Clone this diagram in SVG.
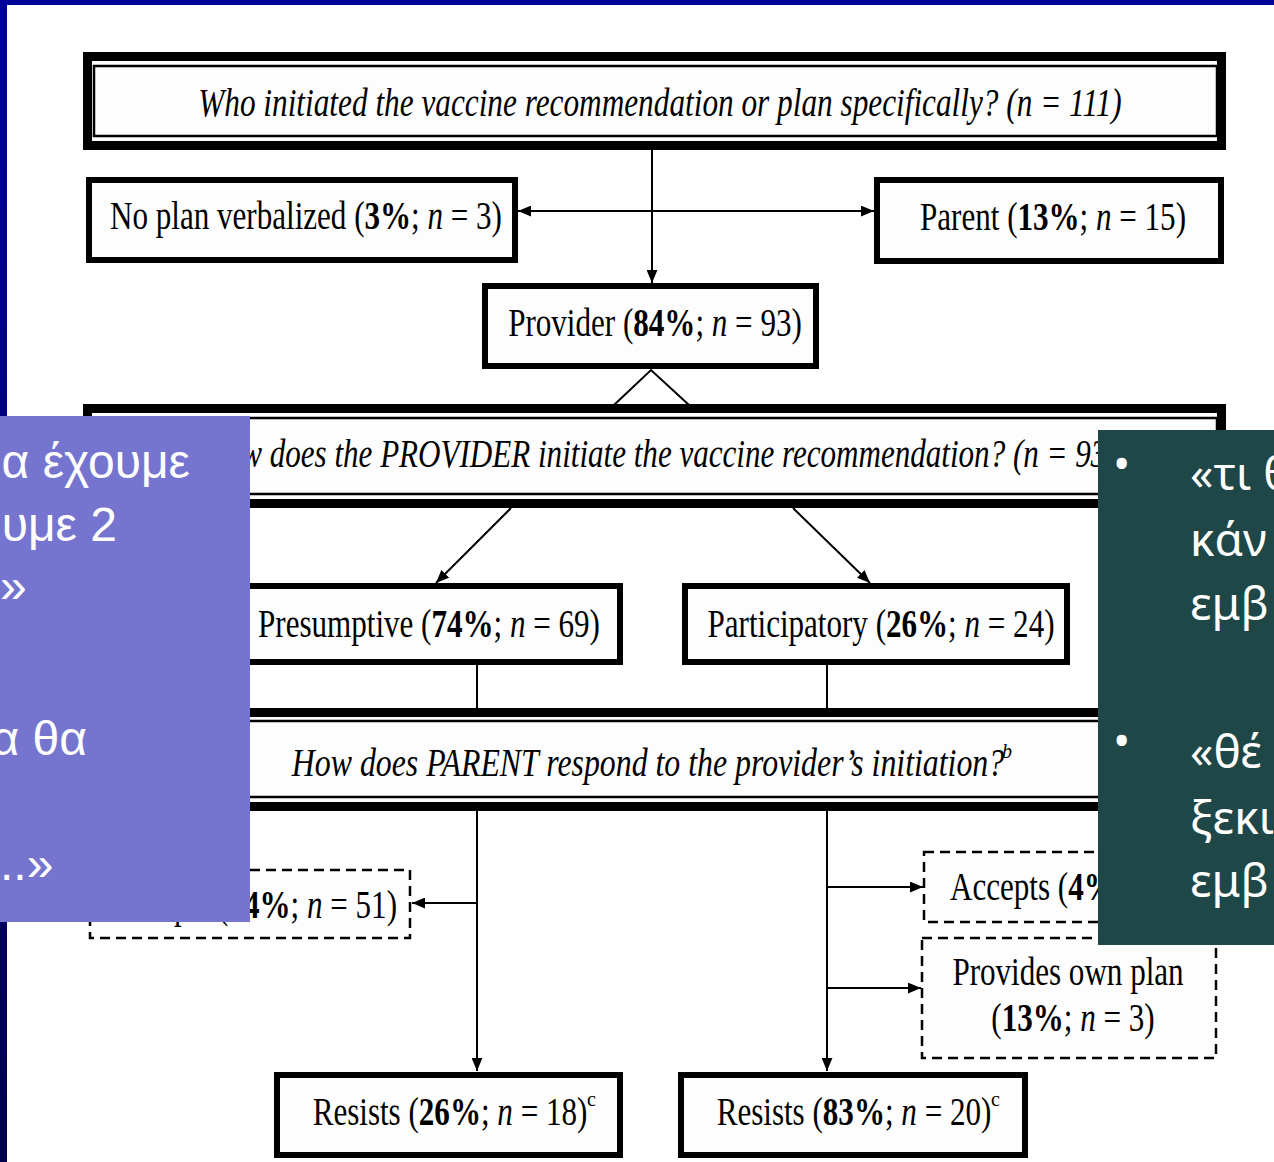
<svg xmlns="http://www.w3.org/2000/svg" width="1274" height="1162" viewBox="0 0 1274 1162">
<defs>
<linearGradient id="navy" x1="0" y1="0" x2="0" y2="1">
<stop offset="0" stop-color="#000099"/>
<stop offset="1" stop-color="#00004d"/>
</linearGradient>
<marker id="ah" viewBox="0 0 12 10" refX="12" refY="5" markerWidth="13" markerHeight="11" markerUnits="userSpaceOnUse" orient="auto-start-reverse">
<path d="M0,0 L12,5 L0,10 Z" fill="#000"/>
</marker>
<style>
.box{fill:#fdfdfd;stroke:#000;stroke-width:6}
.hdr{fill:#fdfdfd;stroke:#000;stroke-width:9}
.hin{fill:none;stroke:#000;stroke-width:2.5}
.dash{fill:#fdfdfd;stroke:#000;stroke-width:2.5;stroke-dasharray:10 6}
.t{font-family:"Liberation Serif","Times New Roman",serif;font-size:40px;fill:#000;text-anchor:middle}
.s{text-anchor:start}
.e{text-anchor:end}
.it{font-style:italic}
.b{font-weight:bold}
.sup{font-family:"Liberation Serif","Times New Roman",serif;font-size:20px;fill:#000}
.ln{fill:none;stroke:#000;stroke-width:2}
.pt{font-family:"Liberation Sans",Arial,sans-serif;font-size:48px;fill:#fff}
.gt{font-family:"Noto Sans","DejaVu Sans",sans-serif;font-size:46px;fill:#fff}
</style>
</defs>
<rect x="0" y="0" width="1274" height="1162" fill="#fff"/>
<rect x="0" y="0" width="1274" height="5" fill="#000099"/>
<rect x="0" y="0" width="7" height="1162" fill="url(#navy)"/>

<g id="connectors">
<line class="ln" x1="652" y1="150" x2="652" y2="283" marker-end="url(#ah)"/>
<line class="ln" x1="518" y1="211" x2="874" y2="211" marker-start="url(#ah)" marker-end="url(#ah)"/>
<polyline class="ln" points="614,405 651,370 689,405"/>
<line class="ln" x1="511" y1="508" x2="436" y2="583" marker-end="url(#ah)"/>
<line class="ln" x1="793" y1="508" x2="870" y2="583" marker-end="url(#ah)"/>
<line class="ln" x1="477" y1="665" x2="477" y2="709"/>
<line class="ln" x1="827" y1="665" x2="827" y2="709"/>
<line class="ln" x1="477" y1="811" x2="477" y2="1071" marker-end="url(#ah)"/>
<line class="ln" x1="477" y1="903" x2="412" y2="903" marker-end="url(#ah)"/>
<line class="ln" x1="827" y1="811" x2="827" y2="1071" marker-end="url(#ah)"/>
<line class="ln" x1="827" y1="887" x2="923" y2="887" marker-end="url(#ah)"/>
<line class="ln" x1="827" y1="988" x2="921" y2="988" marker-end="url(#ah)"/>
</g>

<g id="q1">
<rect class="hdr" x="87.5" y="56.5" width="1134" height="89"/>
<rect class="hin" x="94" y="66" width="1123" height="70"/>
<text class="t it" transform="matrix(0.782 0 0 1 660 116)">Who initiated the vaccine recommendation or plan specifically? (n = 111)</text>
</g>

<g id="noplan">
<rect class="box" x="89" y="180" width="426" height="80"/>
<text class="t" transform="matrix(0.777 0 0 1 306 229)">No plan verbalized (<tspan class="b">3%</tspan>; <tspan class="it">n</tspan> = 3)</text>
</g>

<g id="parent">
<rect class="box" x="877" y="180" width="344" height="81"/>
<text class="t" transform="matrix(0.777 0 0 1 1053 230)">Parent (<tspan class="b">13%</tspan>; <tspan class="it">n</tspan> = 15)</text>
</g>

<g id="provider">
<rect class="box" x="485" y="286" width="331" height="80"/>
<text class="t" transform="matrix(0.777 0 0 1 655 336)">Provider (<tspan class="b">84%</tspan>; <tspan class="it">n</tspan> = 93)</text>
</g>

<g id="q2">
<rect class="hdr" x="87.5" y="408.5" width="1134" height="95"/>
<rect class="hin" x="94" y="418" width="1123" height="76"/>
<text class="t it" transform="matrix(0.777 0 0 1 660 467)">How does the PROVIDER initiate the vaccine recommendation? (n = 93)</text>
</g>

<g id="presumptive">
<rect class="box" x="239" y="586" width="381" height="76"/>
<text class="t" transform="matrix(0.777 0 0 1 429 637)">Presumptive (<tspan class="b">74%</tspan>; <tspan class="it">n</tspan> = 69)</text>
</g>

<g id="participatory">
<rect class="box" x="685" y="586" width="382" height="76"/>
<text class="t" transform="matrix(0.777 0 0 1 881 637)">Participatory (<tspan class="b">26%</tspan>; <tspan class="it">n</tspan> = 24)</text>
</g>

<g id="q3">
<rect class="hdr" x="87.5" y="712.5" width="1134" height="94"/>
<rect class="hin" x="94" y="721" width="1123" height="76"/>
<text class="t it" transform="matrix(0.796 0 0 1 648 776)">How does PARENT respond to the provider’s initiation?</text>
<text class="sup it" x="1002" y="758">b</text>
</g>

<g id="accepts-left">
<rect class="dash" x="90" y="870" width="320" height="68"/>
<text class="t e" transform="matrix(0.777 0 0 1 397 918)">Accepts (<tspan class="b">74%</tspan>; <tspan class="it">n</tspan> = 51)</text>
</g>

<g id="accepts-right">
<rect class="dash" x="924" y="852" width="292" height="70"/>
<text class="t s" transform="matrix(0.777 0 0 1 950 900)">Accepts (<tspan class="b">4%</tspan>; <tspan class="it">n</tspan> = 1)</text>
</g>

<g id="ownplan">
<rect class="dash" x="922" y="938" width="294" height="120"/>
<text class="t" transform="matrix(0.777 0 0 1 1068 985)">Provides own plan</text>
<text class="t" transform="matrix(0.777 0 0 1 1073 1031)">(<tspan class="b">13%</tspan>; <tspan class="it">n</tspan> = 3)</text>
</g>

<g id="resists-left">
<rect class="box" x="277" y="1075" width="343" height="80"/>
<text class="t" transform="matrix(0.777 0 0 1 450 1125)">Resists (<tspan class="b">26%</tspan>; <tspan class="it">n</tspan> = 18)</text>
<text class="sup" x="587" y="1106">c</text>
</g>

<g id="resists-right">
<rect class="box" x="681" y="1075" width="344" height="80"/>
<text class="t" transform="matrix(0.777 0 0 1 854 1125)">Resists (<tspan class="b">83%</tspan>; <tspan class="it">n</tspan> = 20)</text>
<text class="sup" x="991" y="1106">c</text>
</g>

<g id="overlay-left">
<rect x="0" y="416" width="250" height="506" fill="#7575d0"/>
<text class="pt" x="190" y="478" text-anchor="end">α έχουμε</text>
<text class="pt" x="117" y="541" text-anchor="end">υμε 2</text>
<text class="pt" x="0" y="602">»</text>
<text class="pt" x="87" y="755" text-anchor="end">α θα</text>
<text class="pt" x="0" y="880">..»</text>
</g>

<g id="overlay-right">
<rect x="1098" y="430" width="176" height="515" fill="#1f4748"/>
<text class="gt" x="1113" y="480">•</text>
<text class="gt" x="1190" y="490">«τι θ</text>
<text class="gt" x="1190" y="556">κάν</text>
<text class="gt" x="1190" y="620">εμβ</text>
<text class="gt" x="1113" y="757">•</text>
<text class="gt" x="1190" y="768">«θέ</text>
<text class="gt" x="1190" y="834">ξεκι</text>
<text class="gt" x="1190" y="897">εμβ</text>
</g>
</svg>
